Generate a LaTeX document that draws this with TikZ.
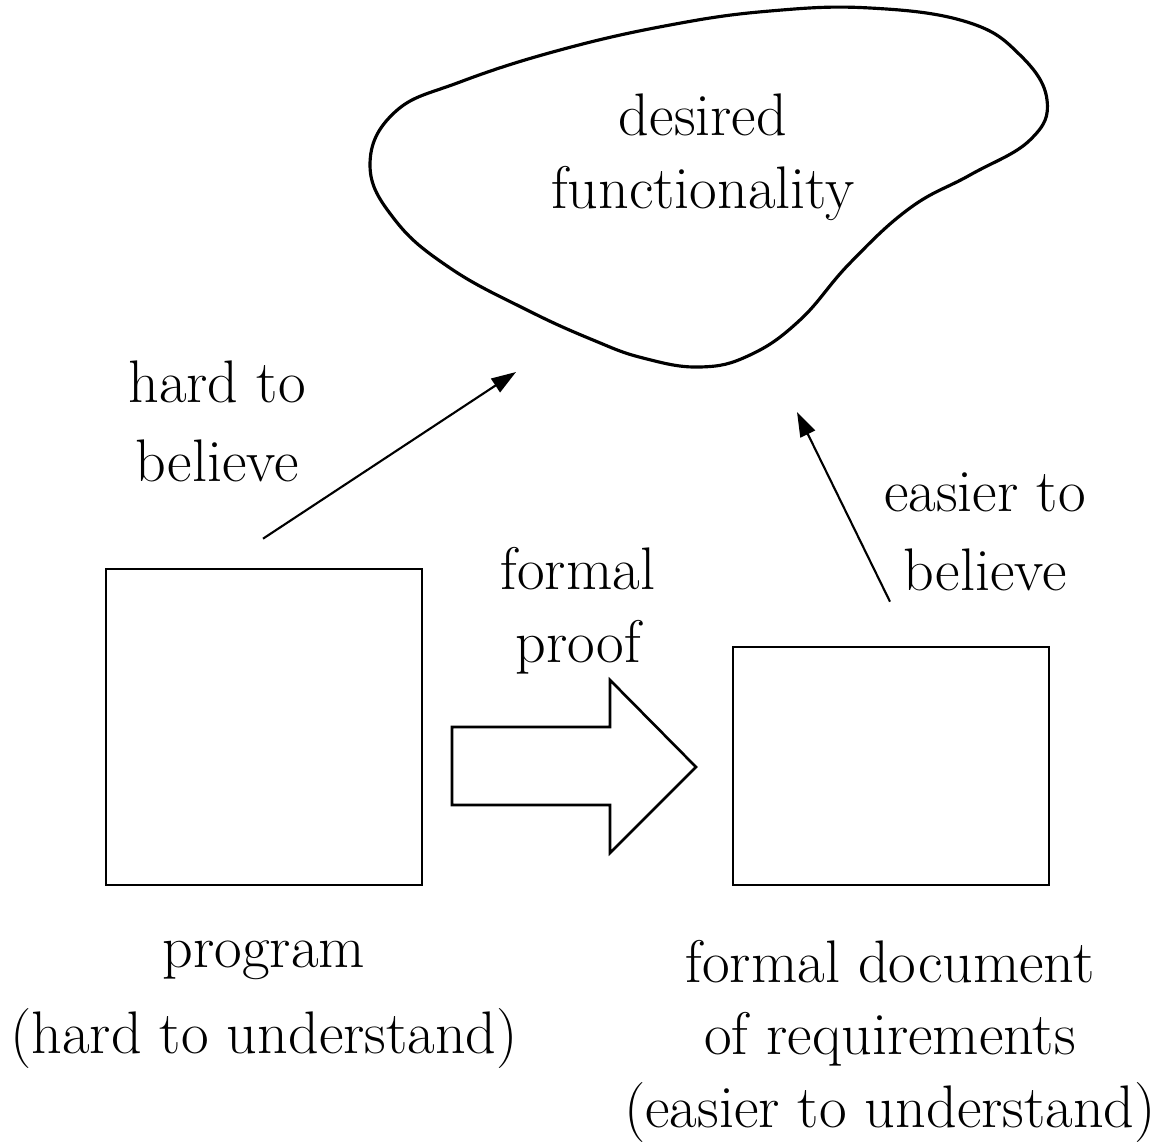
\documentclass[tikz,border=0pt]{standalone}
\usepackage{tikz}
\usetikzlibrary{arrows.meta,calc}

\begin{document}
\begin{tikzpicture}[
		box/.style={draw, line width=0.75pt, inner sep=0pt,
			minimum width=3.16cm, minimum height=#1},
		lbl/.style={align=center, inner sep=0pt, anchor=base,
			font=\fontsize{17.1}{#1}\selectfont},
		arr/.style={-{Triangle[length=7pt, width=4.6pt]}, line width=0.6pt},
		blob/.style={draw, line width=0.9pt}
		]
		\useasboundingbox (0,0) rectangle (11.58,-11.46);
		
		% ── Desired functionality (blob) ──
		\draw[blob] plot[smooth cycle, tension=0.7] coordinates {
			(3.70,-1.65) (3.95,-1.12) (4.60,-0.82) (5.60,-0.50) (6.70,-0.25)
			(7.70,-0.11) (8.70,-0.08) (9.67,-0.22) (10.20,-0.55) (10.47,-1.00)
			(10.30,-1.40) (9.70,-1.75) (9.10,-2.08) (8.50,-2.63) (8.00,-3.20)
			(7.50,-3.55) (7.00,-3.67) (6.43,-3.58) (5.93,-3.40) (5.27,-3.10)
			(4.50,-2.68) (3.95,-2.20)};
		\node[lbl=20.5pt] (want) at (7.03,-2.08) {desired\\functionality};
		
		% ── Boxes ──
		\node[box=3.16cm] (prog) at (2.64,-7.27) {};
		\node[box=2.38cm] (reqdoc) at (8.91,-7.66) {};
		\node[lbl=24.2pt] (progtxt) at (2.64,-10.53) {program\\(hard to understand)};
		\node[lbl=20.5pt] (reqtxt) at (8.90,-11.27) {formal document\\of requirements\\(easier to understand)};
		
		% ── Formal proof (block arrow) ──
		\draw[line width=0.75pt] (4.52,-7.27) -- (6.10,-7.27) -- (6.10,-6.80)
			-- (6.96,-7.67) -- (6.10,-8.53) -- (6.10,-8.05) -- (4.52,-8.05) -- cycle;
		\node[lbl=20.5pt] (prooftxt) at (5.78,-6.62) {formal\\proof};
		
		% Arrows to the blob
		\coordinate (hardend) at (5.16,-3.72);
		\coordinate (easyend) at (7.97,-4.12);
		\draw[arr] ($(prog.north)+(-0.01,0.29)$) -- (hardend);
		\draw[arr] ($(reqdoc.north)+(-0.01,0.44)$) -- (easyend);
		\node[lbl=22.2pt] (hardtxt) at (2.17,-4.81) {hard to\\believe};
		\node[lbl=22.2pt] (easytxt) at (9.85,-5.90) {easier to\\believe};
	\end{tikzpicture}
\end{document}
